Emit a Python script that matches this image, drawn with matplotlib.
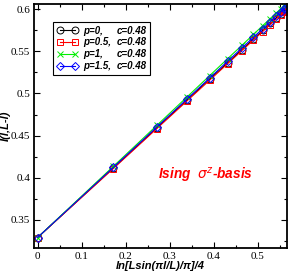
import matplotlib
matplotlib.use("Agg")
import matplotlib.pyplot as plt
from matplotlib.ticker import MultipleLocator
from matplotlib.lines import Line2D

x = [-0.0005, 0.1715, 0.2705, 0.3392, 0.3908, 0.4313, 0.4637, 0.4899,
     0.5111, 0.5282, 0.5415, 0.5516, 0.5586, 0.5627, 0.5641]
y_p0 = [0.329, 0.4115, 0.4591, 0.4922, 0.5170, 0.5364, 0.5520, 0.5646,
        0.5748, 0.5831, 0.5895, 0.5943, 0.5977, 0.5997, 0.6003]
y_p05 = [0.329, 0.4108, 0.4583, 0.4912, 0.5159, 0.5353, 0.5508, 0.5634,
         0.5735, 0.5817, 0.5881, 0.5929, 0.5963, 0.5982, 0.5989]
y_p1 = [0.329, 0.4134, 0.4621, 0.4959, 0.5213, 0.5412, 0.5571, 0.5700,
        0.5805, 0.5889, 0.5954, 0.6004, 0.6038, 0.6059, 0.6066]
y_p15 = [0.329, 0.4122, 0.4602, 0.4935, 0.5185, 0.5382, 0.5539, 0.5666,
         0.5769, 0.5852, 0.5916, 0.5965, 0.5999, 0.6019, 0.6026]
p_labels = ["p=0,", "p=0.5,", "p=1,", "p=1.5,"]
c_labels = ["c=0.48", "c=0.48", "c=0.48", "c=0.48"]

fig = plt.figure(figsize=(2.91, 2.74), dpi=100)
ax = fig.add_axes([0.118, 0.096, 0.868, 0.889])

ms = 5
h0, = ax.plot(x, y_p0, color='black', lw=0.8, marker='o', ms=ms, mfc='none', mew=0.7)
h1, = ax.plot(x, y_p05, color='red', lw=0.8, marker='s', ms=ms-0.5, mfc='none', mew=0.7)
h2, = ax.plot(x, y_p1, color='#00ee00', lw=0.8, marker='x', ms=ms-1, mew=0.7)
h3, = ax.plot(x, y_p15, color='blue', lw=0.8, marker='D', ms=ms-1, mfc='none', mew=0.7)

ax.set_xlim(-0.0077, 0.566)
ax.set_ylim(0.317, 0.606)
ax.xaxis.set_minor_locator(MultipleLocator(0.05))
ax.yaxis.set_minor_locator(MultipleLocator(0.025))
ax.tick_params(which='both', direction='in', top=True, right=True, width=0.8)
ax.tick_params(which='major', length=4, labelsize=8, pad=3)
ax.tick_params(which='minor', length=2)
ax.set_xticks([0, 0.1, 0.2, 0.3, 0.4, 0.5])
ax.set_xticklabels(['0', '0.1', '0.2', '0.3', '0.4', '0.5'], family='Liberation Serif')
ax.set_yticks([0.35, 0.4, 0.45, 0.5, 0.55, 0.6])
ax.set_yticklabels(['0.35', '0.4', '0.45', '0.5', '0.55', '0.6'], family='Liberation Serif')
for s in ax.spines.values():
    s.set_linewidth(1.3)

ax.set_xlabel('ln[Lsin(πl/L)/π]/4', family='Liberation Sans', weight='bold', style='italic',
              fontsize=8, labelpad=0)
ax.set_ylabel('I(l,L-l)', family='Liberation Sans', weight='bold', style='italic',
              fontsize=8, labelpad=0)

ax.text(0.273, 0.403, r'Ising  $\sigma^z$-basis', color='red', fontsize=9.8, weight='bold',
        style='italic', family='Liberation Sans', va='center', ha='left')

blank = Line2D([], [], linestyle='none', marker=None)
hl = 2.2
tp = 0.5
leg = ax.legend([h0, h1, h2, h3, blank, blank, blank, blank], p_labels + c_labels,
                loc='upper left', bbox_to_anchor=(0.075, 0.926), numpoints=2, ncol=2,
                frameon=True, fancybox=False, edgecolor='black', framealpha=1,
                handlelength=hl, handletextpad=tp, borderpad=0.35, labelspacing=0.2,
                columnspacing=-hl - tp + 0.6, borderaxespad=0,
                prop={'family': 'Liberation Sans', 'weight': 'bold', 'style': 'italic', 'size': 7.0})
leg.get_frame().set_linewidth(0.8)

fig.savefig('out.png', dpi=100)
